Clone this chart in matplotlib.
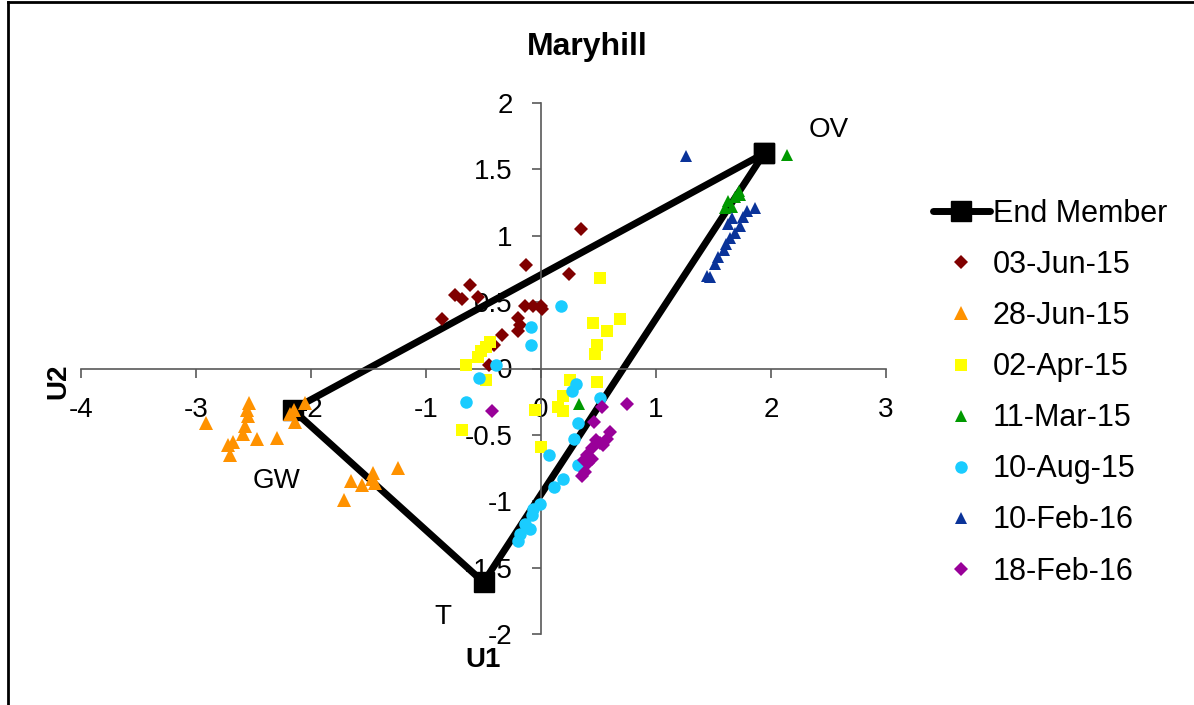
import matplotlib
matplotlib.use("Agg")
import matplotlib.pyplot as plt
from matplotlib.lines import Line2D

plt.rcParams["font.family"] = ["Liberation Sans", "DejaVu Sans"]
plt.rcParams["axes.unicode_minus"] = False

# End-member triangle (OV -> GW -> T -> OV)
em_names = ["OV", "GW", "T"]
em_u1 = [1.94, -2.16, -0.50]
em_u2 = [1.62, -0.31, -1.61]

# Sampling campaigns: (U1, U2) scores
jun03_u1 = [0.35, -0.13, 0.24, -0.62, -0.75, -0.69, -0.55, -0.86, -0.14, -0.07,
            0.00, 0.01, -0.20, -0.18, -0.20, -0.34, -0.41, -0.45]
jun03_u2 = [1.05, 0.78, 0.71, 0.63, 0.55, 0.52, 0.54, 0.37, 0.47, 0.47,
            0.47, 0.45, 0.38, 0.33, 0.28, 0.25, 0.18, 0.03]

jun28_u1 = [-2.91, -2.54, -2.56, -2.55, -2.57, -2.59, -2.47, -2.30, -2.68, -2.72,
            -2.70, -2.15, -2.14, -2.05, -2.18, -1.24, -1.46, -1.65, -1.56, -1.44,
            -1.71, -1.47]
jun28_u2 = [-0.41, -0.26, -0.31, -0.36, -0.43, -0.49, -0.53, -0.52, -0.55, -0.58,
            -0.65, -0.31, -0.40, -0.26, -0.34, -0.75, -0.79, -0.85, -0.88, -0.86,
            -0.99, -0.83]

apr02_u1 = [0.51, 0.45, 0.57, 0.69, 0.49, 0.47, -0.44, -0.48, -0.52, -0.55,
            -0.65, -0.48, 0.25, 0.49, 0.19, 0.15, 0.19, -0.69, -0.05, 0.00]
apr02_u2 = [0.68, 0.34, 0.28, 0.37, 0.18, 0.11, 0.20, 0.16, 0.13, 0.09,
            0.03, -0.09, -0.09, -0.10, -0.21, -0.29, -0.32, -0.46, -0.31, -0.59]

mar11_u1 = [0.33, 2.14, 1.72, 1.69, 1.63, 1.60, 1.66, 1.73]
mar11_u2 = [-0.27, 1.61, 1.34, 1.29, 1.26, 1.21, 1.22, 1.31]

aug10_u1 = [0.17, -0.09, -0.09, -0.39, -0.54, -0.65, 0.30, 0.27, 0.51, 0.32,
            0.29, 0.07, 0.32, 0.19, 0.11, -0.01, -0.07, -0.08, -0.14, -0.10,
            -0.18, -0.20]
aug10_u2 = [0.47, 0.31, 0.18, 0.03, -0.07, -0.25, -0.12, -0.17, -0.22, -0.41,
            -0.53, -0.65, -0.73, -0.83, -0.89, -1.02, -1.06, -1.10, -1.17, -1.21,
            -1.25, -1.30]

feb10_u1 = [1.26, 1.86, 1.79, 1.76, 1.66, 1.73, 1.69, 1.64, 1.61, 1.59,
            1.54, 1.51, 1.44, 1.47, 1.63]
feb10_u2 = [1.60, 1.21, 1.19, 1.14, 1.13, 1.07, 1.02, 0.98, 0.94, 0.89,
            0.84, 0.79, 0.70, 0.69, 1.09]

feb18_u1 = [-0.43, 0.75, 0.53, 0.46, 0.60, 0.57, 0.51, 0.44, 0.40, 0.37,
            0.41, 0.38, 0.36, 0.48, 0.54, 0.44]
feb18_u2 = [-0.32, -0.27, -0.29, -0.40, -0.48, -0.53, -0.56, -0.60, -0.65, -0.69,
            -0.71, -0.78, -0.81, -0.54, -0.58, -0.68]

series = [
    ("03-Jun-15", jun03_u1, jun03_u2, "D", "#800000", 7.5),
    ("28-Jun-15", jun28_u1, jun28_u2, "^", "#FF9200", 10),
    ("02-Apr-15", apr02_u1, apr02_u2, "s", "#FFFF00", 8.5),
    ("11-Mar-15", mar11_u1, mar11_u2, "^", "#009900", 9),
    ("10-Aug-15", aug10_u1, aug10_u2, "o", "#1ACCFF", 9),
    ("10-Feb-16", feb10_u1, feb10_u2, "^", "#0A3399", 9),
    ("18-Feb-16", feb18_u1, feb18_u2, "D", "#990099", 7),
]

W, H = 1194, 705
fig = plt.figure(figsize=(W / 100, H / 100), dpi=100)
ax = fig.add_axes([81 / W, 1 - 634 / H, 805 / W, 531 / H])

# mixing triangle
tri_x = em_u1 + em_u1[:1]
tri_y = em_u2 + em_u2[:1]
ax.plot(tri_x, tri_y, color="black", linewidth=5, marker="s",
        markersize=15, label="End Member", zorder=2, solid_capstyle="round")

for label, xs, ys, mk, col, ms in series:
    ax.plot(xs, ys, linestyle="none", marker=mk, color=col, markersize=ms,
            markeredgewidth=0, label=label, zorder=3)

# end-member labels
ax.text(2.50, 1.80, "OV", fontsize=20, ha="center", va="center")
ax.text(-2.30, -0.85, "GW", fontsize=20, ha="center", va="center")
ax.text(-0.85, -1.87, "T", fontsize=20, ha="center", va="center")

ax.set_xlim(-4, 3)
ax.set_ylim(-2, 2)
ax.set_xticks(range(-4, 4))
ax.set_yticks([-2, -1.5, -1, -0.5, 0, 0.5, 1, 1.5, 2])
ax.set_yticklabels(["-2", "-1.5", "-1", "-0.5", "0", "0.5", "1", "1.5", "2"])

# axes cross at the origin
axis_col = "#595959"
ax.spines["left"].set_position(("data", 0))
ax.spines["bottom"].set_position(("data", 0))
ax.spines["top"].set_visible(False)
ax.spines["right"].set_visible(False)
for s in ("left", "bottom"):
    ax.spines[s].set_color(axis_col)
    ax.spines[s].set_linewidth(1.2)
ax.tick_params(direction="out", length=6.5, width=1.2, color=axis_col,
               labelsize=20, pad=14)
ax.patch.set_alpha(0)

fig.text(587 / W, 1 - 47 / H, "Maryhill", fontsize=23, fontweight="bold",
         ha="center", va="center",
         family=["Liberation Sans Narrow", "Liberation Sans"])
fig.text(58 / W, 1 - 381 / H, "U2", fontsize=20, fontweight="bold",
         rotation=90, ha="center", va="center")
fig.text(483 / W, 1 - 660 / H, "U1", fontsize=20, fontweight="bold",
         ha="center", va="center")

ax.legend(loc="upper left", bbox_to_anchor=(933 / W, 1 - 199 / H),
          bbox_transform=fig.transFigure, frameon=False, fontsize=22,
          numpoints=1, handlelength=1.85, handletextpad=0.1,
          labelspacing=0.69, borderpad=0, borderaxespad=0)

# chart border (left and top edges)
fig.add_artist(Line2D([8 / W, 8 / W], [0, 1 - 2 / H], color="black",
                      linewidth=2, transform=fig.transFigure))
fig.add_artist(Line2D([8 / W, 1], [1 - 2 / H, 1 - 2 / H], color="black",
                      linewidth=2, transform=fig.transFigure))

fig.savefig("out.png", dpi=100)
